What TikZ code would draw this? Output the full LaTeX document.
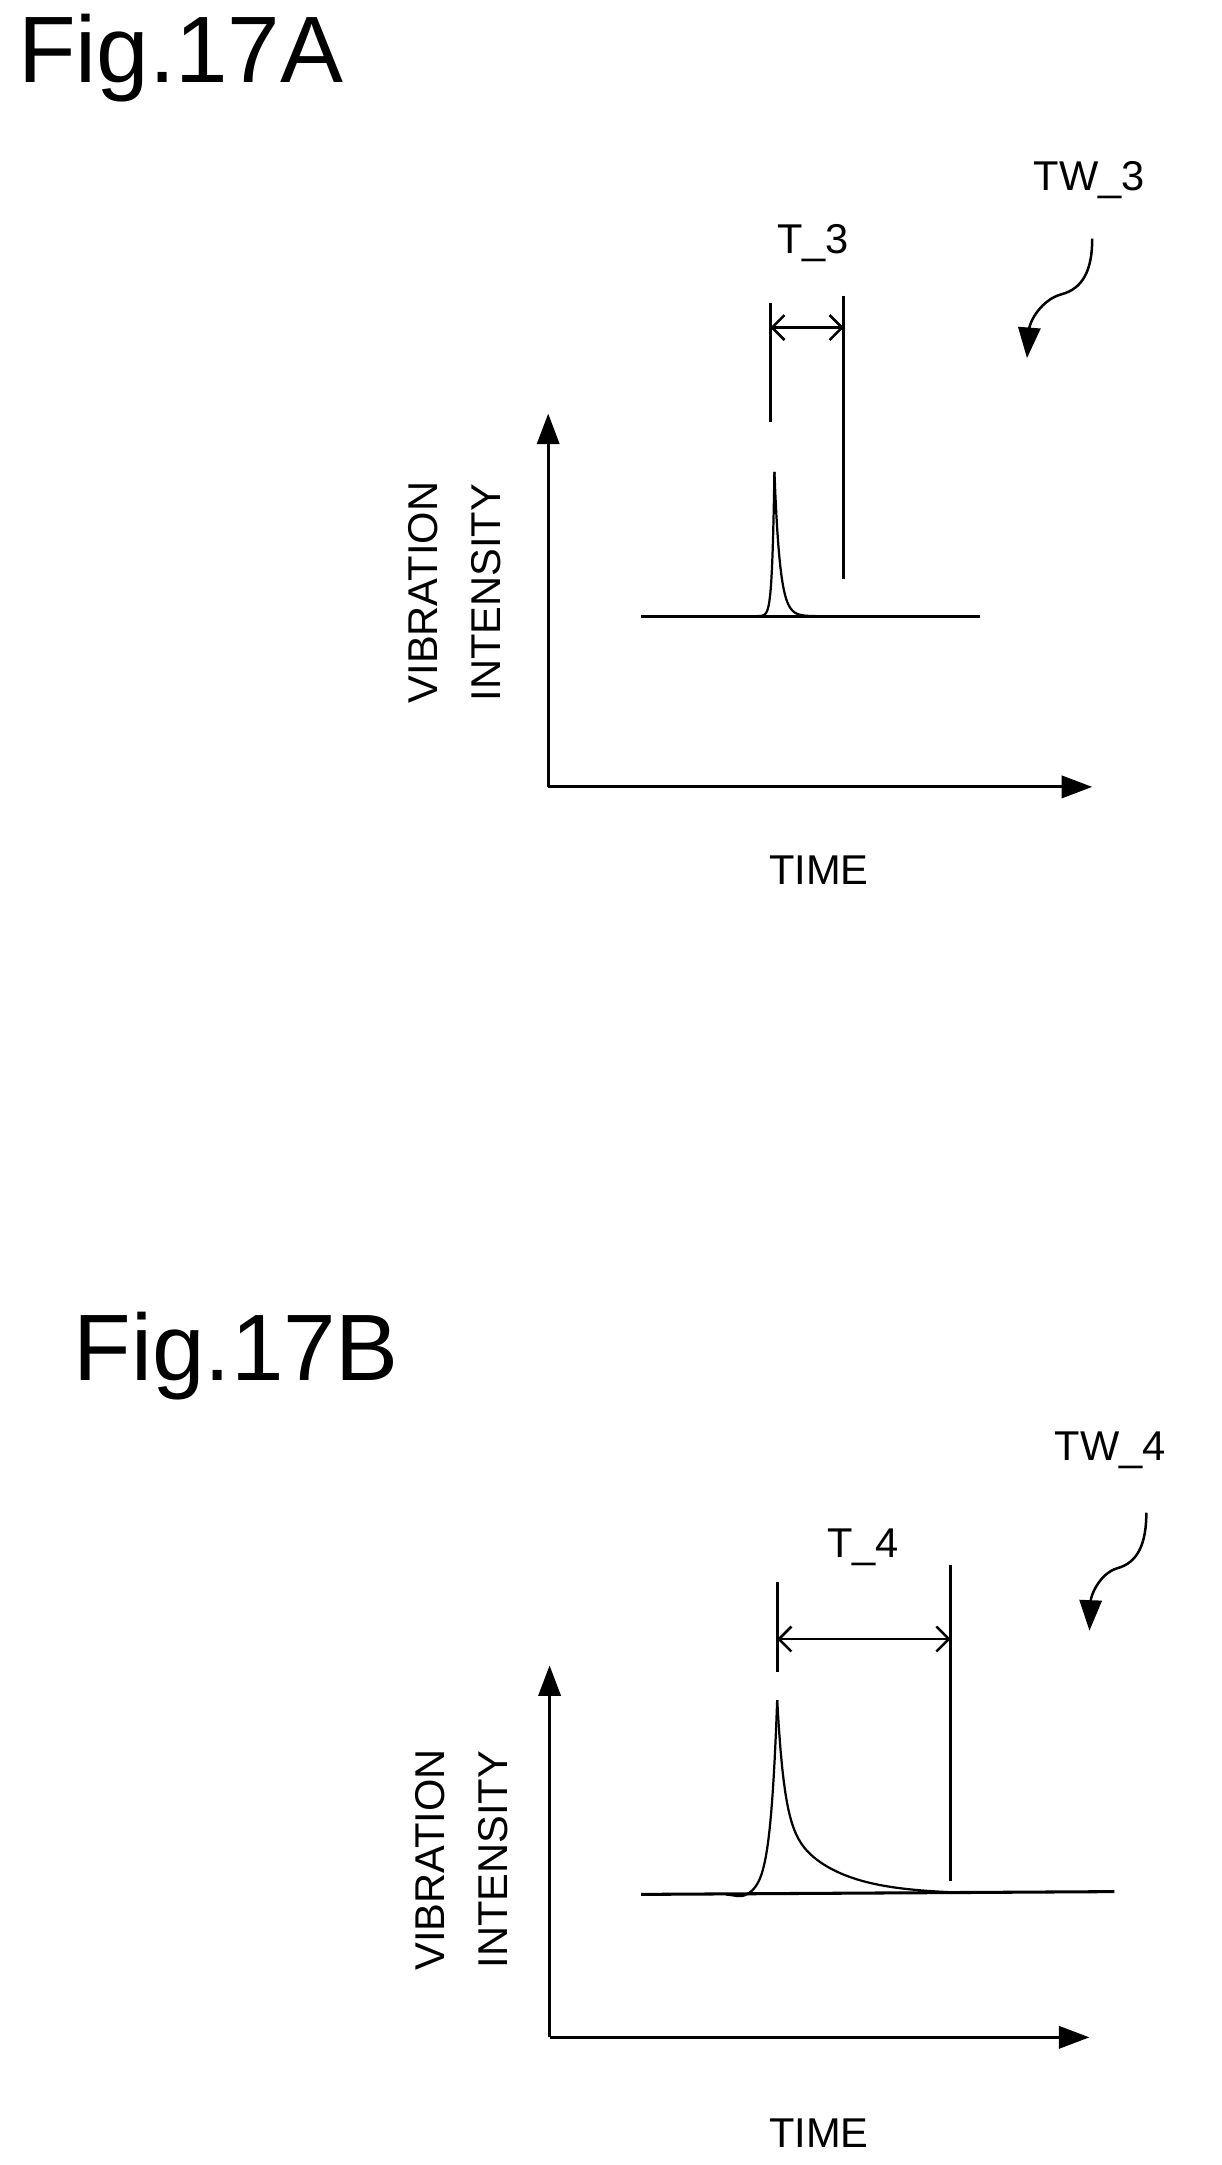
\documentclass[tikz,border=0pt]{standalone}
\usepackage{fontspec}
\setmainfont{Liberation Sans}
\usetikzlibrary{arrows.meta}
\begin{document}
\begin{tikzpicture}[x=1pt,y=-1pt,line width=2.2pt,
  axis/.style={-{Triangle[length=22pt,width=16pt]}},
  dim/.style={{Straight Barb[length=9pt,width=18pt]}-{Straight Barb[length=9pt,width=18pt]},line width=1.8pt},
  lbl/.style={font=\fontsize{30}{34}\selectfont,inner sep=0pt},
  title/.style={font=\fontsize{68}{72}\selectfont,inner sep=0pt,anchor=west},
  curl/.style={line width=1.8pt,-{Triangle[length=22pt,width=16pt]}}]
\useasboundingbox (0,0) rectangle (880,1560);
% ---------- Fig 17A ----------
\node[title] (ta) at (12,42) {Fig.17A};
\coordinate (oa) at (395,567);
\coordinate (ya) at (395,298);
\coordinate (xa) at (787,567);
\draw[axis] (oa) -- (ya);
\draw[axis] (oa) -- (xa);
\draw (462,444) -- (706,444);
\draw[line width=1.6pt] plot[domain=546:558,samples=40] (\x,{444-104*exp((\x-558)/1.6)});
\draw[line width=1.6pt] plot[domain=558:600,samples=60] (\x,{444-104*exp(-(\x-558)/4)});
\draw (555,218) -- (555,304);
\draw (608,213) -- (608,417);
\coordinate (da1) at (555,236);
\coordinate (da2) at (608,236);
\draw[dim] (da1) -- (da2);
\node[lbl] (t3) at (586,175) {T\_3};
\node[lbl] (tw3) at (785,130) {TW\_3};
\coordinate (ca1) at (787,172);
\coordinate (ca2) at (740,258);
\draw[curl] (ca1) .. controls (787,195) and (780,208) .. (765,212) .. controls (750,216) and (742,232) .. (ca2);
\node[lbl,rotate=90] (via) at (305,427) {VIBRATION};
\node[lbl,rotate=90] (ina) at (350,427) {INTENSITY};
\node[lbl] (tia) at (590,627) {TIME};
% ---------- Fig 17B ----------
\node[title] (tb) at (52,977) {Fig.17B};
\coordinate (ob) at (396,1468);
\coordinate (yb) at (396,1200);
\coordinate (xb) at (785,1468);
\draw[axis] (ob) -- (yb);
\draw[axis] (ob) -- (xb);
\draw (462,1365) -- (803,1363);
\draw[line width=1.6pt] plot[domain=523:560,samples=60] (\x,{1365-140*exp((\x-560)/5)+2*exp(-((\x-535)/8)^2)});
\draw[line width=1.6pt] plot[domain=560:700,samples=120] (\x,{1365-140*(0.6*exp(-(\x-560)/5)+0.4*exp(-(\x-560)/35))});
\draw (560,1140) -- (560,1205);
\draw (685,1128) -- (685,1355);
\coordinate (db1) at (560,1181);
\coordinate (db2) at (685,1181);
\draw[dim] (db1) -- (db2);
\node[lbl] (t4) at (622,1115) {T\_4};
\node[lbl] (tw4) at (800,1045) {TW\_4};
\coordinate (cb1) at (826,1090);
\coordinate (cb2) at (785,1175);
\draw[curl] (cb1) .. controls (826,1112) and (820,1126) .. (805,1130) .. controls (792,1134) and (786,1150) .. (cb2);
\node[lbl,rotate=90] (vib) at (310,1340) {VIBRATION};
\node[lbl,rotate=90] (inb) at (355,1340) {INTENSITY};
\node[lbl] (tib) at (590,1537) {TIME};
\end{tikzpicture}
\end{document}
